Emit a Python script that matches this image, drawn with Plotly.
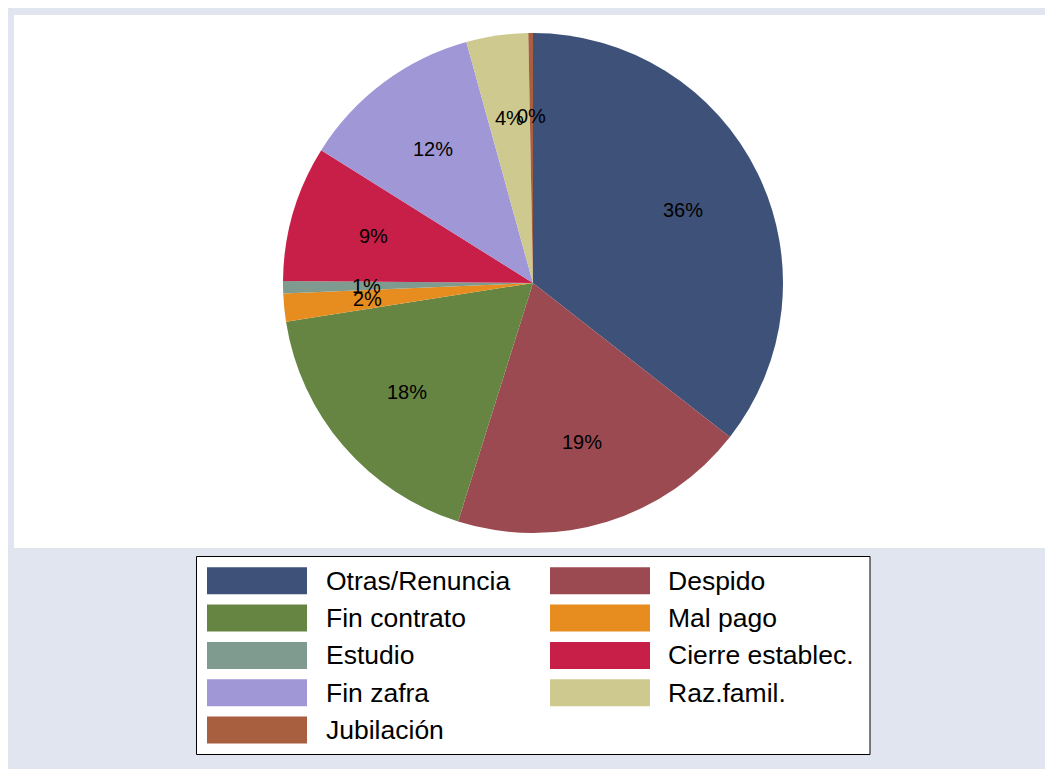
import math
import plotly.graph_objects as go

categories = ["Otras/Renuncia", "Despido", "Fin contrato", "Mal pago", "Estudio",
              "Cierre establec.", "Fin zafra", "Raz.famil.", "Jubilación"]
shares = [35.6, 19.3, 17.7, 1.8, 0.8, 8.8, 11.8, 4.0, 0.3]
colors = ["#3e5179", "#9a4a50", "#668442", "#e78c1e", "#7f9a8e",
          "#c81f48", "#9f97d6", "#cec98e", "#a85f40"]

OFF = 8  # browser body margin
W, H = 1053 - OFF, 769 - OFF
FONT = "Arial"
cx, cy, R = 533, 283, 250  # pie centre / radius in reference pixels


def px(x):
    return (x - OFF) / W


def py(y):
    return 1 - (y - OFF) / H


fig = go.Figure()
fig.add_trace(go.Pie(
    labels=categories, values=shares, sort=False, direction="clockwise",
    rotation=0, textinfo="none", hoverinfo="label+percent",
    marker=dict(colors=colors, line=dict(width=0)),
    domain=dict(x=[px(cx - R), px(cx + R)], y=[py(cy + R), py(cy - R)]),
    showlegend=False,
))

total = sum(shares)
annotations = []
cum = 0.0
for v in shares:
    mid = (cum + v / 2) / total * 2 * math.pi
    cum += v
    rr = R * 2 / 3
    x = cx + rr * math.sin(mid)
    y = cy - rr * math.cos(mid)
    annotations.append(dict(
        x=px(x), y=py(y), xref="paper", yref="paper", showarrow=False,
        text=f"{round(v / total * 100):d}%", xanchor="center", yanchor="middle",
        font=dict(family=FONT, size=20, color="black")))

shapes = [dict(type="rect", xref="paper", yref="paper", layer="below",
               x0=px(14), x1=px(1052), y0=py(548), y1=py(15),
               fillcolor="white", line=dict(width=0)),
          dict(type="rect", xref="paper", yref="paper",
               x0=px(196.5), x1=px(870), y0=py(754.5), y1=py(556.5),
               fillcolor="white", line=dict(color="black", width=1), layer="below")]

# manual legend: two columns, row-major
col_sw = [207, 550]
col_tx = [323.5, 665.5]
row0, pitch, sh, sw = 567.3, 37.3, 27, 100
for i, (name, c) in enumerate(zip(categories, colors)):
    r, k = divmod(i, 2)
    y0 = row0 + r * pitch
    shapes.append(dict(type="rect", xref="paper", yref="paper",
                       x0=px(col_sw[k]), x1=px(col_sw[k] + sw),
                       y0=py(y0 + sh), y1=py(y0), fillcolor=c, line=dict(width=0)))
    annotations.append(dict(
        x=px(col_tx[k]), y=py(y0 + sh / 2), xref="paper", yref="paper",
        showarrow=False, text=name, xanchor="left", yanchor="middle",
        font=dict(family=FONT, size=26.5, color="black")))

fig.update_layout(
    width=W, height=H, margin=dict(l=0, r=0, t=0, b=0),
    paper_bgcolor="#e0e5f0", plot_bgcolor="#e0e5f0",
    shapes=shapes, annotations=annotations, showlegend=False,
)
fig.write_html("out.html")
